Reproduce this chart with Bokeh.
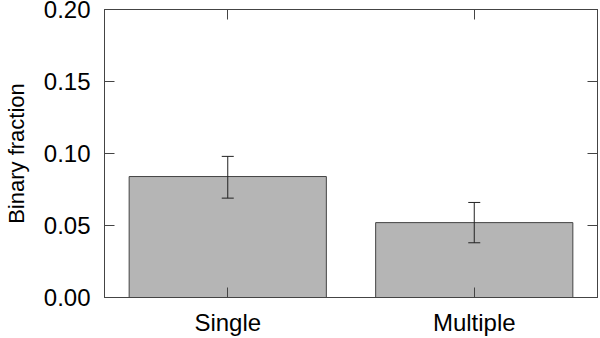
from bokeh.plotting import figure
from bokeh.models import (ColumnDataSource, Range1d, LinearAxis, FixedTicker,
                          Whisker, TeeHead)
from bokeh.embed import file_html
from bokeh.resources import INLINE

categories = ["Single", "Multiple"]
values = [0.084, 0.052]
err_lower = [0.069, 0.038]
err_upper = [0.098, 0.066]
y_ticks = [0.00, 0.05, 0.10, 0.15, 0.20]

xpos = [i + 0.5 for i in range(len(categories))]
src = ColumnDataSource(dict(x=xpos, top=values, lower=err_lower, upper=err_upper))

AX = "#444444"
FONT = "Liberation Sans"

p = figure(width=600, height=338, output_backend="svg", toolbar_location=None,
           x_range=Range1d(0, len(categories)), y_range=Range1d(0, 0.20),
           x_axis_location=None, y_axis_location=None,
           min_border_left=104, min_border_right=3, min_border_top=9,
           min_border_bottom=41)
p.grid.visible = False
p.outline_line_color = AX
p.background_fill_color = "white"
p.border_fill_color = "white"

p.vbar(x="x", top="top", width=0.8, bottom=0, source=src,
       fill_color="#b5b5b5", line_color=AX, line_width=1)

p.add_layout(Whisker(base="x", lower="lower", upper="upper", source=src,
                     level="overlay", line_color="#222222", line_width=1,
                     upper_head=TeeHead(size=12, line_color="#222222", line_width=1),
                     lower_head=TeeHead(size=12, line_color="#222222", line_width=1)))

def style_axis(ax, ticks, labels=None):
    ax.axis_line_color = AX
    ax.major_tick_line_color = AX
    ax.major_tick_in = 10
    ax.major_tick_out = 0
    ax.minor_tick_line_color = None
    if labels is None:
        ax.major_label_overrides = {t: "" for t in ticks}
        ax.major_label_text_font_size = "1px"
        ax.major_label_standoff = 0
    else:
        ax.major_label_overrides = {t: l for t, l in zip(ticks, labels)}
        ax.major_label_text_font = FONT
        ax.major_label_text_font_size = "24px"
        ax.major_label_text_color = "black"

yl = LinearAxis(ticker=FixedTicker(ticks=y_ticks), axis_label="Binary fraction")
style_axis(yl, y_ticks, [f"{t:.2f}" for t in y_ticks])
yl.major_label_standoff = 14
yl.axis_label_text_font = FONT
yl.axis_label_text_font_size = "22px"
yl.axis_label_text_font_style = "normal"
yl.axis_label_text_color = "black"
yl.axis_label_standoff = 12
p.add_layout(yl, "left")

yr = LinearAxis(ticker=FixedTicker(ticks=y_ticks))
style_axis(yr, y_ticks)
p.add_layout(yr, "right")

xb = LinearAxis(ticker=FixedTicker(ticks=xpos))
style_axis(xb, xpos, categories)
xb.major_label_standoff = 11
p.add_layout(xb, "below")

xt = LinearAxis(ticker=FixedTicker(ticks=xpos))
style_axis(xt, xpos)
p.add_layout(xt, "above")

open("out.html", "w").write(file_html(p, INLINE))
